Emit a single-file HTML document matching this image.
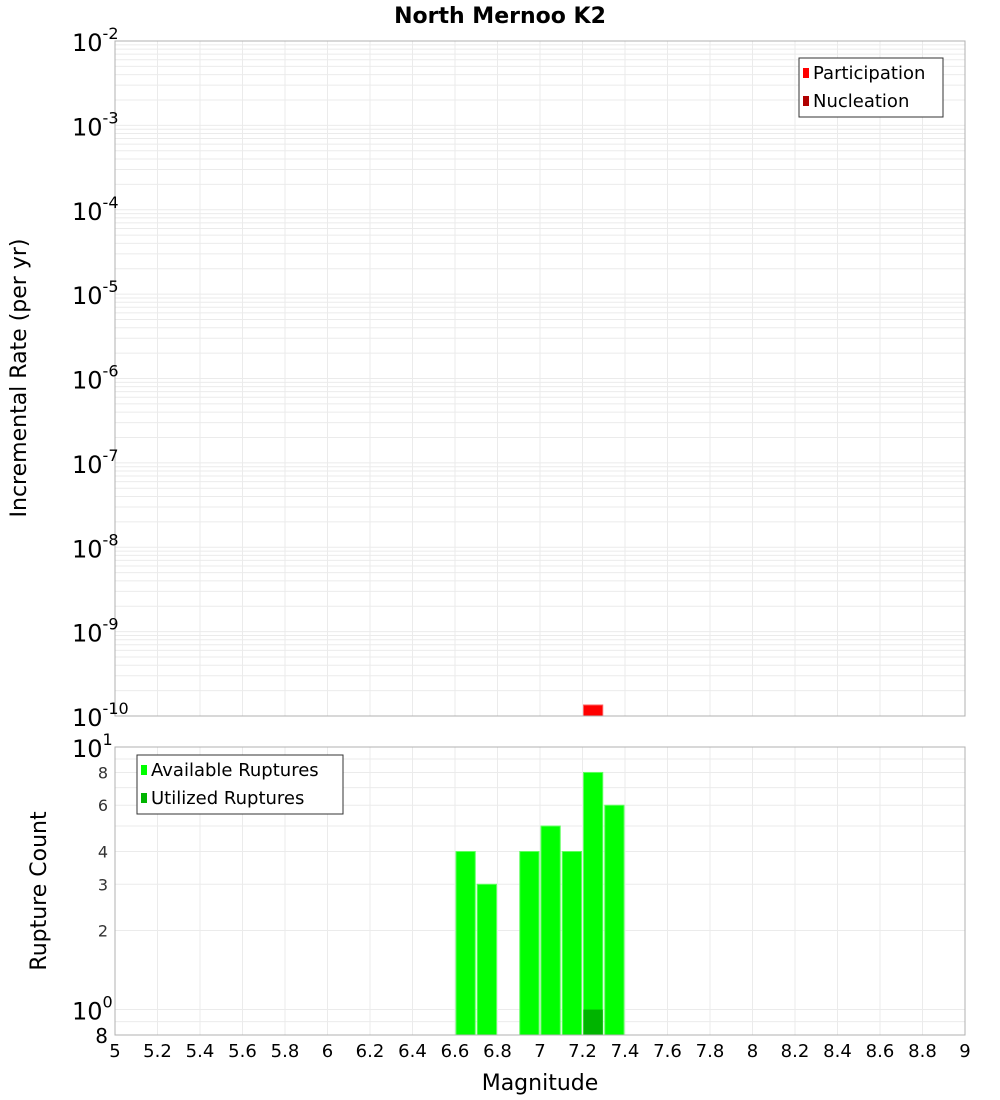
<!DOCTYPE html>
<html><head><meta charset="utf-8">
<style>body{margin:0;background:#fff}svg{display:block;font-family:"DejaVu Sans","Liberation Sans",sans-serif}</style>
</head><body>
<svg id="c" width="1000" height="1100" xmlns="http://www.w3.org/2000/svg"></svg>
<script>
const mags = [6.65, 6.75, 6.95, 7.05, 7.15, 7.25, 7.35];
const available = [4, 3, 4, 5, 4, 8, 6];
const utilMags = [7.25];
const utilized = [1];
const partMags = [7.25];
const participation = [1.35e-10];
const xTicks = [5,5.2,5.4,5.6,5.8,6,6.2,6.4,6.6,6.8,7,7.2,7.4,7.6,7.8,8,8.2,8.4,8.6,8.8,9];
const topDecades = [-10,-9,-8,-7,-6,-5,-4,-3,-2];
const botTicks = [2,3,4,6,8];

const NS="http://www.w3.org/2000/svg";
const svg=document.getElementById('c');
function el(t,a,p){const e=document.createElementNS(NS,t);for(const k in a)e.setAttribute(k,a[k]);(p||svg).appendChild(e);return e;}
const L=115,R=965,T1=41,B1=716,T2=747,B2=1035;
const x=m=>L+(m-5)/(9-5)*(R-L);
const y1=v=>T1+(-2-Math.log10(v))/8*(B1-T1);
const y2=v=>B2-(Math.log10(v)-Math.log10(0.8))/(1-Math.log10(0.8))*(B2-T2);

let t=el('text',{x:500,y:23,'text-anchor':'middle','font-size':22,'font-weight':'bold'});t.textContent='North Mernoo K2';


const g=el('g',{stroke:'#ebebeb','stroke-width':1});

xTicks.forEach(v=>{el('line',{x1:x(v),x2:x(v),y1:T1,y2:B1},g);el('line',{x1:x(v),x2:x(v),y1:T2,y2:B2},g);});
for(let d=-10;d<-2;d++)for(let k=1;k<10;k++){const yy=y1(k*Math.pow(10,d));el('line',{x1:L,x2:R,y1:yy,y2:yy},g);}
[0.8,0.9,1,2,3,4,5,6,7,8,9].forEach(v=>{const yy=y2(v);el('line',{x1:L,x2:R,y1:yy,y2:yy},g);});

partMags.forEach((m,i)=>{const r=el('rect',{x:x(m-0.05)+1,y:y1(participation[i]),width:x(m+0.05)-x(m-0.05)-2,height:B1-y1(participation[i]),fill:'#ff0000',stroke:'#ff6060','stroke-width':1});
});
mags.forEach((m,i)=>{const r=el('rect',{x:x(m-0.05)+1,y:y2(available[i]),width:x(m+0.05)-x(m-0.05)-2,height:B2-y2(available[i]),fill:'#00ff00',stroke:'#60ff60','stroke-width':1});
});
utilMags.forEach((m,i)=>{const r=el('rect',{x:x(m-0.05)+1,y:y2(utilized[i]),width:x(m+0.05)-x(m-0.05)-2,height:B2-y2(utilized[i]),fill:'#00b400'});
});

el('rect',{x:L,y:T1,width:R-L,height:B1-T1,fill:'none',stroke:'#b0b0b0'});
el('rect',{x:L,y:T2,width:R-L,height:B2-T2,fill:'none',stroke:'#b0b0b0'});

topDecades.forEach(d=>{const tx=el('text',{x:72,y:y1(Math.pow(10,d))+10,'font-size':24});
tx.textContent='10';const s=el('tspan',{dy:-12,'font-size':16},tx);s.textContent=String(d);
});
[[10,'1'],[1,'0']].forEach(([v,e])=>{const tx=el('text',{x:72,y:y2(v)+10,'font-size':24});tx.textContent='10';
const s=el('tspan',{dy:-12,'font-size':16},tx);s.textContent=e;
});
botTicks.forEach(v=>{const tx=el('text',{x:108,y:y2(v)+6,'text-anchor':'end','font-size':16,fill:'#333'});tx.textContent=String(v);
});
let e8=el('text',{x:108,y:B2+8,'text-anchor':'end','font-size':20});e8.textContent='8';

xTicks.forEach(v=>{const tx=el('text',{x:x(v),y:1057,'text-anchor':'middle','font-size':18});tx.textContent=String(v);
});
t=el('text',{x:540,y:1090,'text-anchor':'middle','font-size':22});t.textContent='Magnitude';

t=el('text',{x:0,y:0,'text-anchor':'middle','font-size':22,transform:'translate(26,378) rotate(-90)'});t.textContent='Incremental Rate (per yr)';

t=el('text',{x:0,y:0,'text-anchor':'middle','font-size':22,transform:'translate(46,891) rotate(-90)'});t.textContent='Rupture Count';


function legend(x0,y0,w,h,items,name){const lg=el('g',{});
el('rect',{x:x0,y:y0,width:w,height:h,fill:'#fff',stroke:'#333','stroke-width':1},lg);
items.forEach(([c,s],i)=>{el('rect',{x:x0+4,y:y0+10+i*28,width:6,height:10,fill:c},lg);
const tx=el('text',{x:x0+14,y:y0+21+i*28,'font-size':18},lg);tx.textContent=s;});}
legend(799,58,144,59,[['#ff0000','Participation'],['#b00000','Nucleation']],'top-legend');
legend(137,755,206,59,[['#00ff00','Available Ruptures'],['#00b400','Utilized Ruptures']],'bottom-legend');
</script>
</body></html>
